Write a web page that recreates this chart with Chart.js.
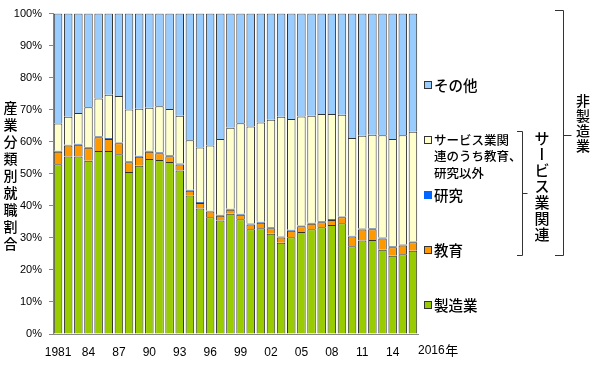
<!DOCTYPE html>
<html>
<head>
<meta charset="utf-8">
<script src="https://cdn.jsdelivr.net/npm/chart.js@4"></script>
<style>
html,body{margin:0;padding:0;background:#fff;}
#wrap{position:relative;width:600px;height:370px;}
</style>
</head>
<body>
<div id="wrap"><canvas id="c" width="600" height="370"></canvas></div>
<script>
const years = ['1981','1982','1983','1984','1985','1986','1987','1988','1989','1990','1991','1992','1993','1994','1995','1996','1997','1998','1999','2000','2001','2002','2003','2004','2005','2006','2007','2008','2009','2010','2011','2012','2013','2014','2015','2016'];
const tickLabels = ['1981','','','84','','','87','','','90','','','93','','','96','','','99','','','02','','','05','','','08','','','11','','','14','',''];
const endLabel = '2016年';
const yTicks = [0,10,20,30,40,50,60,70,80,90,100];

const manufacturing = [53.0,55.4,55.4,54.1,57.1,57.1,56.1,50.6,52.5,54.6,54.3,53.7,51.0,43.2,39.2,36.4,35.4,37.5,35.8,32.7,33.0,31.3,28.5,30.2,31.8,32.7,33.3,34.0,34.6,27.4,29.2,29.3,26.3,24.4,24.9,26.0];
const education = [3.9,3.4,3.7,4.0,4.3,3.8,3.4,3.0,2.8,2.3,2.1,1.8,1.9,1.5,1.7,1.8,1.5,1.3,1.4,1.5,1.7,1.7,1.6,2.0,1.8,1.7,1.6,1.6,1.8,3.0,3.4,3.4,3.5,2.7,2.7,2.6];
const research = [0.3,0.3,0.3,0.3,0.3,0.3,0.3,0.3,0.3,0.3,0.3,0.3,0.3,0.3,0.3,0.3,0.3,0.3,0.3,0.3,0.3,0.3,0.3,0.3,0.3,0.3,0.3,0.3,0.3,0.3,0.3,0.3,0.3,0.3,0.3,0.3];
const serviceOther = [8.5,8.7,9.6,12.4,11.8,13.5,14.5,16.2,14.7,13.4,14.4,14.4,14.9,15.5,17.0,20.3,23.7,25.3,28.3,30.3,31.0,33.6,37.4,34.6,34.0,33.4,33.5,32.8,31.7,30.5,29.0,29.2,31.9,33.5,34.1,34.2];
const others = [34.3,32.2,31.0,29.2,26.5,25.3,25.7,29.9,29.7,29.4,28.9,29.8,31.9,39.5,41.8,41.2,39.1,35.6,34.2,35.2,34.0,33.1,32.2,32.9,32.1,31.9,31.3,31.3,31.6,38.8,38.1,37.8,38.0,39.1,38.0,36.9];

const seriesLabels = ['製造業','教育','研究','サービス業関連のうち教育、研究以外','その他'];
const serviceLegendLines = ['サービス業関','連のうち教育、','研究以外'];
const yTitle = '産業分類別就職割合';
const groupService = 'サービス業関連';
const groupNonMfg = '非製造業';

const jp = '"Noto Sans CJK JP", "Noto Sans", sans-serif';
const lat = '"Liberation Sans", Arial, sans-serif';

function vText(ctx, text, x, y0, step, size){
  ctx.save();
  ctx.font = '500 ' + size + 'px ' + jp;
  ctx.fillStyle = '#000';
  ctx.textAlign = 'center';
  ctx.textBaseline = 'middle';
  [...text].forEach((ch, i) => {
    const y = y0 + i * step;
    if (ch === 'ー') {
      ctx.save(); ctx.translate(x, y); ctx.rotate(Math.PI/2); ctx.fillText(ch, 0, 0); ctx.restore();
    } else ctx.fillText(ch, x, y);
  });
  ctx.restore();
}

const decor = {
  id: 'decor',
  afterDraw(chart){
    const ctx = chart.ctx;
    const area = chart.chartArea;
    // end label of x axis
    ctx.save();
    ctx.font = '12px ' + lat;
    ctx.fillStyle = '#000';
    ctx.textBaseline = 'middle';
    ctx.textAlign = 'left';
    const num = endLabel.replace('年', '');
    ctx.fillText(num, area.right + 0, 351);
    const w = ctx.measureText(num).width;
    ctx.font = '13px ' + jp;
    ctx.fillText('年', area.right + w + 0.5, 350);
    ctx.restore();

    // y title
    vText(ctx, yTitle, 10.5, 108, 16.9, 14);

    // legend
    const ys = [305, 250, 195, 140, 85];
    chart.data.datasets.forEach((ds, i) => {
      const y = ys[i];
      ctx.save();
      if (i === 2) {
        ctx.fillStyle = ds.backgroundColor;
        ctx.fillRect(424, y - 4, 8, 8);
      } else {
        ctx.fillStyle = ds.backgroundColor;
        ctx.fillRect(424.5, y - 3.5, 7, 7);
        ctx.strokeStyle = '#333';
        ctx.lineWidth = 1;
        ctx.strokeRect(424.5, y - 3.5, 7, 7);
      }
      ctx.fillStyle = '#000';
      ctx.textBaseline = 'middle';
      ctx.textAlign = 'left';
      if (i === 3) {
        ctx.font = '500 12.5px ' + jp;
        serviceLegendLines.forEach((ln, k) => ctx.fillText(ln, 434, y + k * 16.5));
      } else {
        ctx.font = '500 14.5px ' + jp;
        ctx.fillText(ds.label, 434, y);
      }
      ctx.restore();
    });

    // brackets
    ctx.save();
    ctx.strokeStyle = '#333';
    ctx.lineWidth = 1;
    ctx.beginPath();
    ctx.moveTo(517, 131.5); ctx.lineTo(522.5, 131.5); ctx.lineTo(522.5, 255.5); ctx.lineTo(517, 255.5);
    ctx.moveTo(522.5, 193.5); ctx.lineTo(527.5, 193.5);
    ctx.moveTo(555, 10.5); ctx.lineTo(563.5, 10.5); ctx.lineTo(563.5, 255.5); ctx.lineTo(555, 255.5);
    ctx.moveTo(563.5, 135.5); ctx.lineTo(571.5, 135.5);
    ctx.stroke();
    ctx.restore();

    vText(ctx, groupService, 542, 138, 16, 15);
    vText(ctx, groupNonMfg, 583, 101, 15, 14);
  }
};

const colors = ['#99cc00','#ff9900','#0066ff','#ffffcc','#99ccff'];
const values = [manufacturing, education, research, serviceOther, others];

new Chart(document.getElementById('c'), {
  type: 'bar',
  data: {
    labels: years,
    datasets: values.map((v, i) => ({
      label: seriesLabels[i],
      data: v,
      backgroundColor: colors[i],
      borderColor: '#333',
      borderWidth: 1,
      categoryPercentage: 1,
      barPercentage: 0.84
    }))
  },
  options: {
    responsive: false,
    animation: false,
    devicePixelRatio: 1,
    layout: { padding: { left: 0, right: 182, top: 12, bottom: 0 } },
    plugins: { legend: { display: false }, tooltip: { enabled: false } },
    scales: {
      x: {
        stacked: true,
        grid: { display: false, drawTicks: false },
        border: { display: true, color: '#888', width: 1 },
        ticks: {
          autoSkip: false, maxRotation: 0, minRotation: 0, padding: 11,
          color: '#000', font: { family: lat, size: 12 },
          callback: (v, i) => tickLabels[i]
        },
        afterFit: s => { s.height = 36; }
      },
      y: {
        stacked: true,
        min: 0, max: 100,
        afterBuildTicks: s => { s.ticks = yTicks.map(v => ({ value: v })); },
        grid: { drawOnChartArea: false, drawTicks: true, tickLength: 4, color: '#888' },
        border: { display: true, color: '#888', width: 1 },
        ticks: {
          padding: 7, color: '#000', font: { family: lat, size: 11 },
          callback: v => v + '%'
        },
        afterFit: s => { s.width = 53; }
      }
    }
  },
  plugins: [decor]
});
</script>
</body>
</html>
